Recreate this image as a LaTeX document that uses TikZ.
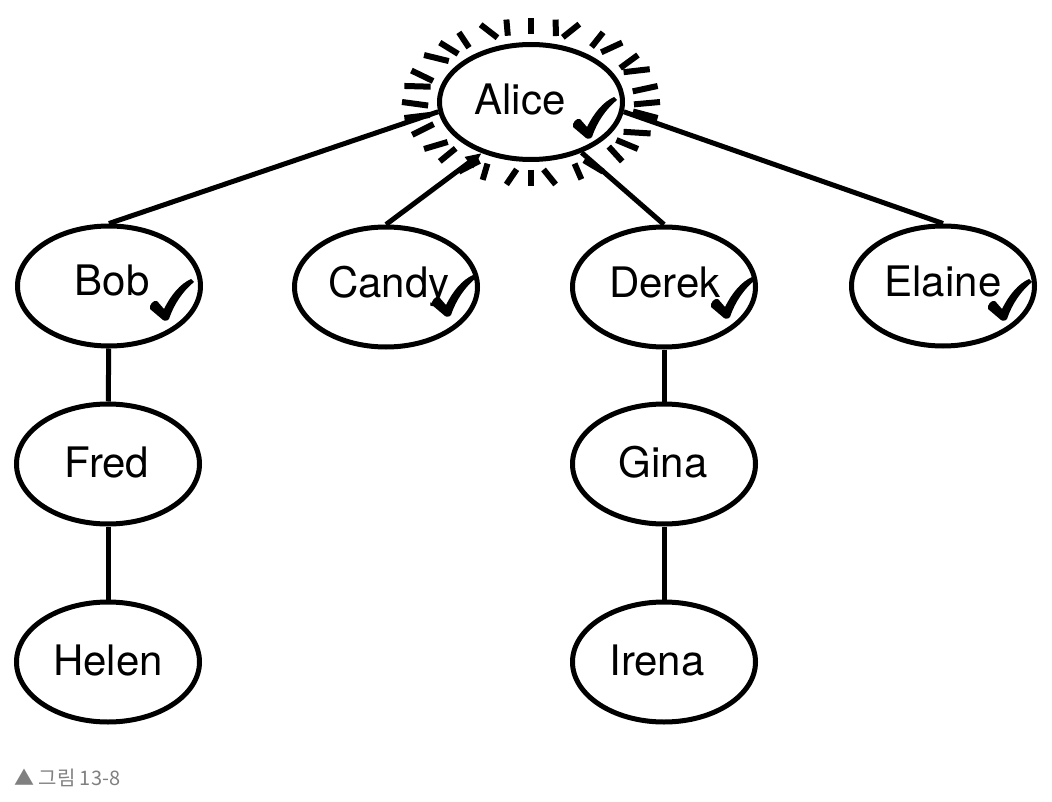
\documentclass[tikz,border=0pt]{standalone}
\usepackage{fontspec}
\setmainfont{TeX Gyre Heros}
\newfontfamily\krfont{Noto Sans CJK KR}
\usetikzlibrary{shapes.geometric,arrows.meta}
\tikzset{
  person/.style={draw=black, line width=5pt, ellipse, inner sep=0pt, minimum width=183pt, minimum height=120pt},
  nametext/.style={anchor=base, inner sep=0pt, font=\fontsize{42pt}{42pt}\selectfont},
  link/.style={draw=black, line width=5pt},
  ray/.style={draw=black, line width=6pt},
  chk/.pic={\fill[black] (0,0) -- (-13,-11) .. controls (-14,-15) and (-10,-20) .. (-6,-19)
      -- (1,-11)
      .. controls (8,-25) and (17,-36) .. (28,-41) -- (31,-38)
      .. controls (20,-29) and (11,-16) .. (6,-1) .. controls (5,1) and (1,1) .. (0,0) -- cycle;}
}
\begin{document}
\begin{tikzpicture}[x=1pt,y=-1pt]
\useasboundingbox (0,0) rectangle (1052,802);
% rays around Alice
\foreach \a/\t in {0/2,11/-3,22/4,34/0,45/-4,56/3,67/-2,79/4,90/0,101/-3,112/3,124/-4,135/2,146/-2,157/4,169/0,180/-3,191/2,202/-4,214/3,225/0,236/-3,247/4,259/-2,270/0,281/3,292/-4,304/2,315/-2,326/4,337/-3,349/2}{
  \draw[ray,shift={(531,102)}] (\a+\t:103 and 68) -- (\a:129 and 84);
}
\node[person, minimum height=115pt, fill=white] (alice) at (531,102) {};
\node[person] (bob) at (109,286) {};
\node[person] (candy) at (386,287) {};
\node[person] (derek) at (664,287) {};
\node[person] (elaine) at (943,286) {};
\node[person] (fred) at (108,464) {};
\node[person] (helen) at (108,662) {};
\node[person] (gina) at (664,464) {};
\node[person] (irena) at (664,662) {};
% names
\node[nametext] (talice) at (520,115) {Alice};
\node[nametext] (tbob) at (112,296) {Bob};
\node[nametext] (tcandy) at (389,298) {Candy};
\node[nametext] (tderek) at (665,298) {Derek};
\node[nametext] (telaine) at (943,297) {Elaine};
\node[nametext] (tfred) at (107,477) {Fred};
\node[nametext] (thelen) at (108,675) {Helen};
\node[nametext] (tgina) at (663,477) {Gina};
\node[nametext] (tirena) at (657,675) {Irena};
% check marks
\pic at (586,138) {chk};
\pic at (163,320) {chk};
\pic at (445,316) {chk};
\pic at (724,318) {chk};
\pic at (1001,320) {chk};
% connectors
\draw[link] (alice.186) -- (bob.north);
\draw[link,-{Triangle[length=16pt,width=13pt]}] (candy.north) -- (alice.226);
\draw[link] (alice.-45) -- (derek.north);
\draw[link] (alice.-6) -- (elaine.north);
\draw[link] (bob) -- (fred);
\draw[link] (fred) -- (helen);
\draw[link] (derek) -- (gina);
\draw[link] (gina) -- (irena);
% caption
\node[anchor=base west, inner sep=0pt, text=black!50, font=\krfont\fontsize{20pt}{20pt}\selectfont] (cap) at (14,785) {▲ 그림 13-8};
\end{tikzpicture}
\end{document}
